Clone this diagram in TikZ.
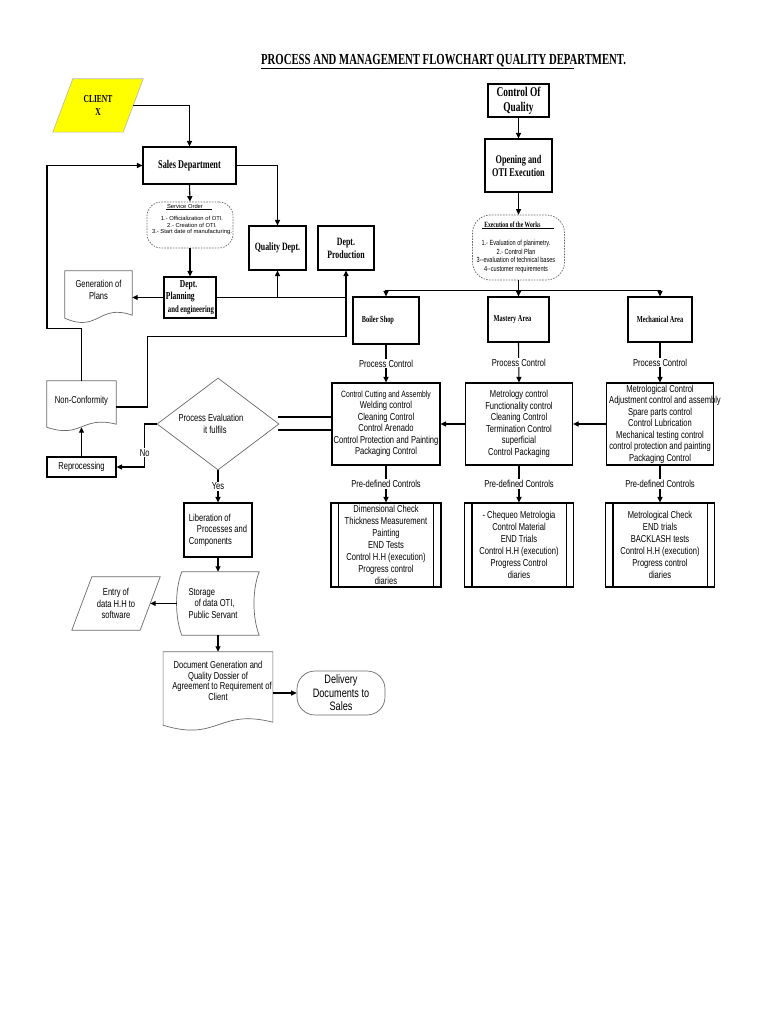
\documentclass[tikz,border=0pt]{standalone}
\usepackage{fontspec}
\usetikzlibrary{shapes.geometric,arrows.meta,calc,backgrounds}
\newfontfamily\tsans[FakeStretch=0.75]{Liberation Sans}
\newfontfamily\tsansn{Liberation Sans}
\newfontfamily\tserif[FakeStretch=0.7]{Liberation Serif}
\definecolor{outl}{RGB}{105,105,105}
\definecolor{cyel}{RGB}{255,255,0}
\newcommand{\docshape}[3]{%
  \path[thinl,fill=white] (#1.north west) -- (#1.north east) -- ($(#1.south east)+(0,#2-3)$) .. controls ($(#1.south)+(0,#2-#3)$) and ($(#1.south)+(0,#2+#3)$) .. ($(#1.south west)+(0,#2)$) -- cycle;}
\begin{document}
\begin{tikzpicture}[x=1pt,y=-1pt,
  conn/.style={draw=black,line width=1.1pt},
  arr/.style={conn,-{Triangle[length=5.5pt,width=5pt]}},
  box/.style={draw=black,line width=1.1pt,inner sep=1pt,align=center},
  fbox/.style={draw=none,inner sep=1pt,align=center},
  thinl/.style={draw=outl,line width=0.7pt},
  dashl/.style={draw=outl,line width=0.7pt,dash pattern=on 1.6pt off 1.2pt},
  sf/.style={font=\tsans\fontsize{10.1}{11.5}\selectfont},
  sfp/.style={font=\tsans\fontsize{10.1}{12}\selectfont},
  lbl/.style={sf,fill=white,inner sep=1pt},
]
\useasboundingbox (0,0) rectangle (768,1024);

% Title
\node[anchor=base west,inner sep=0pt,font=\tserif\bfseries\fontsize{15.3}{17}\selectfont] (title) at (261,65) {PROCESS AND MANAGEMENT FLOWCHART QUALITY DEPARTMENT.};
\draw[line width=1pt] ($(title.base west)+(0,4)$) -- ++(313,0);

% Left column
\node[fbox,minimum width=70pt,minimum height=53pt,font=\tserif\bfseries\fontsize{10.7}{13}\selectfont] (client) at (98,105.5) {CLIENT\\X};
\node[box,minimum width=93pt,minimum height=37pt,font=\tserif\bfseries\fontsize{11.8}{13}\selectfont] (sales) at (189.5,165.5) {Sales Department};
\node[dashl,rounded corners=14pt,minimum width=86pt,minimum height=46pt,inner sep=0pt] (service) at (190,225) {};
\node[inner sep=0pt,font=\tsansn\fontsize{5.8}{6.6}\selectfont] (svchead) at (185,206) {Service Order};
\draw[line width=0.8pt] ($(service.north west)+(19,7.5)$) -- ++(46,0);
\node[inner sep=0pt,align=center,font=\tsansn\fontsize{5.8}{6.6}\selectfont] (svcitems) at (192,225.5) {1.- Officialization of OTI.\\2.- Creation of OTI.\\3.- Start date of manufacturing.};
\node[box,align=left,minimum width=52pt,minimum height=41pt,font=\tserif\bfseries\fontsize{10.7}{12.5}\selectfont] (planning) at (190,297.5) {\hspace*{14pt}Dept.\\Planning\\\hspace*{2pt}{\fontsize{9.6}{12.5}\selectfont and engineering}};
\node[fbox,sf,minimum width=67pt,minimum height=38pt] (genplans) at (98.5,290) {Generation of\\Plans};
\node[box,minimum width=57pt,minimum height=44pt,font=\tserif\bfseries\fontsize{11.2}{13}\selectfont] (quality) at (277.5,248) {Quality Dept.};
\node[box,minimum width=56pt,minimum height=44pt,font=\tserif\bfseries\fontsize{11.2}{13}\selectfont] (production) at (346,248) {Dept.\\Production};
\node[fbox,sf,minimum width=69pt,minimum height=40pt] (nonconf) at (81.5,401) {Non-Conformity};
\node[box,sf,minimum width=69pt,minimum height=20pt] (reproc) at (81.5,467) {Reprocessing};
\node[diamond,thinl,minimum width=122pt,minimum height=92pt,inner sep=0pt,
  label={[name=dectxt,sf,align=center,xshift=-7pt]center:{Process Evaluation\\\hspace*{8pt}it fulfils}}] (decision) at (218,424) {};
\node[box,sf,align=left,minimum width=68pt,minimum height=54pt] (liberation) at (218,530) {Liberation of\\\hspace*{8pt}Processes and\\Components};
\node[fbox,minimum width=82pt,minimum height=63pt,
  label={[name=storagetxt,sf,align=left,xshift=-5pt]center:{Storage\\\hspace*{6pt}of data OTI,\\Public Servant}}] (storage) at (218,603.5) {};
\node[fbox,sf,minimum width=68pt,minimum height=53pt] (entry) at (116,603.5) {Entry of\\data H.H to\\software};
\node[fbox,minimum width=109pt,minimum height=58pt,font=\tsans\fontsize{10.1}{10.7}\selectfont] (docgen) at (218,681) {Document Generation and\\Quality Dossier of\\\hspace*{8pt}Agreement to Requirement of\\Client};
\node[thinl,rounded corners=18pt,minimum width=88pt,minimum height=44pt,align=center,inner sep=1pt,font=\tsans\fontsize{12.2}{13.5}\selectfont] (delivery) at (341,693) {Delivery\\Documents to\\Sales};

% Right column
\node[box,minimum width=61pt,minimum height=33pt,font=\tserif\bfseries\fontsize{13.4}{15}\selectfont] (coq) at (518.5,100.5) {Control Of\\Quality};
\node[box,minimum width=67pt,minimum height=53pt,font=\tserif\bfseries\fontsize{11.8}{13}\selectfont] (opening) at (518.5,165.5) {Opening and\\OTI Execution};
\node[dashl,rounded corners=18pt,minimum width=92pt,minimum height=65pt,inner sep=0pt] (execworks) at (518.5,247.5) {};
\node[inner sep=0pt,font=\tserif\bfseries\fontsize{8}{9}\selectfont] (exhead) at (512.5,225) {Execution of the Works};
\draw[line width=0.8pt] ($(execworks.north west)+(10,14)$) -- ++(72,0);
\node[inner sep=0pt,align=center,font=\tsans\fontsize{7.45}{8.8}\selectfont] (exitems) at (516,256.5) {1.- Evaluation of planimetry.\\2.- Control Plan\\3{-}{-}evaluation of technical bases\\4{-}{-}customer requirements};

\node[box,minimum width=66pt,minimum height=47pt,font=\tserif\bfseries\fontsize{9.1}{10}\selectfont] (boiler) at (386,320.5) {\hspace*{-16pt}Boiler Shop};
\node[box,minimum width=61pt,minimum height=45pt,font=\tserif\bfseries\fontsize{9.1}{10}\selectfont] (mastery) at (518.5,319.5) {\hspace*{-12pt}Mastery Area};
\node[box,minimum width=64pt,minimum height=45pt,font=\tserif\bfseries\fontsize{9.1}{10}\selectfont] (mechanical) at (660,319.5) {Mechanical Area};

\node[box,sf,minimum width=108pt,minimum height=82pt] (bctrl) at (386,424) {{\fontsize{9.05}{11.5}\selectfont Control Cutting and Assembly}\\Welding control\\Cleaning Control\\Control Arenado\\\makebox[0pt]{Control Protection and Painting}\\Packaging Control};
\node[box,sf,minimum width=107pt,minimum height=82pt] (mactrl) at (519,424) {Metrology control\\Functionality control\\Cleaning Control\\Termination Control\\superficial\\Control Packaging};
\node[box,sf,minimum width=107pt,minimum height=82pt] (mechctrl) at (660,424) {Metrological Control\\\makebox[0pt]{\hspace*{10pt}Adjustment control and assembly}\\Spare parts control\\Control Lubrication\\Mechanical testing control\\\makebox[0pt]{control protection and painting}\\Packaging Control};

\node[box,sfp,minimum width=110pt,minimum height=84pt] (bpre) at (386,545) {Dimensional Check\\Thickness Measurement\\Painting\\END Tests\\Control H.H (execution)\\Progress control\\diaries};
\node[box,sfp,minimum width=109pt,minimum height=84pt] (mapre) at (519,545) {- Chequeo Metrologia\\Control Material\\END Trials\\Control H.H (execution)\\Progress Control\\diaries};
\node[box,sfp,minimum width=109pt,minimum height=84pt] (mechpre) at (660,545) {Metrological Check\\END trials\\BACKLASH tests\\Control H.H (execution)\\Progress control\\diaries};
\foreach \n in {bpre,mapre,mechpre}{
  \draw[line width=1.1pt] ($(\n.north west)+(8,0)$) -- ($(\n.south west)+(8,0)$);
  \draw[line width=1.1pt] ($(\n.north east)+(-8,0)$) -- ($(\n.south east)+(-8,0)$);
}

% Connectors left
\draw[arr] (client.east) -| (sales.north);
\draw[arr] (sales.east) -| (quality.north);
\draw[arr] (sales.south) -- (service.north);
\draw[arr] (service.south) -- (planning.north);
\draw[arr] (planning.west) -- (planning.west -| genplans.east);
\draw[arr] (planning.east) -| (production.south);
\draw[arr] (planning.east -| quality.south) -- (quality.south);
\draw[conn] ($(nonconf.east)+(0,6)$) -- ++(31,0) |- ($(planning.east -| production.south)+(0,39)$) -- (planning.east -| production.south);
\coordinate (loopL) at (47,328.5);
\draw[arr] (nonconf.north) |- (loopL) |- (sales.west);
\draw[arr] (reproc.north) -- ($(nonconf.south)+(0,6)$);
\draw[arr] (decision.west) -- ++(-12,0) -- ++(0,43) node[lbl,pos=0.67] (nolbl) {No} -- (reproc.east);
\draw[arr] (decision.south) -- (liberation.north) node[lbl,midway] (yeslbl) {Yes};
\draw[conn] ($(decision.east)+(-1,-7)$) -- ($(bctrl.west)+(0,-7)$);
\draw[conn] ($(decision.east)+(-1,6)$) -- ($(bctrl.west)+(0,6)$);
\draw[arr] (liberation.south) -- (storage.north);
\draw[arr] (storage.west) -- (entry.east);
\draw[arr] (storage.south) -- (docgen.north);
\draw[arr] (docgen.east |- delivery.west) -- (delivery.west);

% Connectors right
\draw[arr] (coq.south) -- (opening.north);
\draw[arr] (opening.south) -- (execworks.north);
\coordinate (br) at (518.5,290.5);
\draw[conn] (execworks.south) -- (br);
\draw[arr] (br) -| (boiler.north);
\draw[arr] (br) -- (mastery.north);
\draw[arr] (br) -| (mechanical.north);
\draw[arr] (boiler.south) -- (bctrl.north) node[lbl,midway] (pc1) {Process Control};
\draw[arr] (mastery.south) -- (mactrl.north) node[lbl,midway] (pc2) {Process Control};
\draw[arr] (mechanical.south) -- (mechctrl.north) node[lbl,midway] (pc3) {Process Control};
\draw[arr] (bctrl.south) -- (bpre.north) node[lbl,midway] (pd1) {Pre-defined Controls};
\draw[arr] (mactrl.south) -- (mapre.north) node[lbl,midway] (pd2) {Pre-defined Controls};
\draw[arr] (mechctrl.south) -- (mechpre.north) node[lbl,midway] (pd3) {Pre-defined Controls};
\draw[arr] (mechctrl.west) -- (mactrl.east);
\draw[arr] (mactrl.west) -- (bctrl.east);

% Background shapes
\begin{scope}[on background layer]
\fill[white] (0,0) rectangle (768,1024);
\path[fill=cyel,draw=outl!50,line width=0.6pt] ($(client.north west)+(10,0)$) -- ($(client.north east)+(10,0)$) -- ($(client.south east)+(-10,0)$) -- ($(client.south west)+(-10,0)$) -- cycle;
\path[thinl] ($(entry.north west)+(10,0)$) -- ($(entry.north east)+(10,0)$) -- ($(entry.south east)+(-10,0)$) -- ($(entry.south west)+(-10,0)$) -- cycle;
\path[thinl] ($(storage.north west)+(5,0)$) -- (storage.north east) .. controls ($(storage.north east)+(-7,18)$) and ($(storage.south east)+(-7,-18)$) .. (storage.south east) -- ($(storage.south west)+(5,0)$) .. controls ($(storage.south west)+(-2,-18)$) and ($(storage.north west)+(-2,18)$) .. ($(storage.north west)+(5,0)$) -- cycle;
\docshape{genplans}{9}{15}
\docshape{nonconf}{6}{12}
\docshape{docgen}{15}{17}
\end{scope}
\end{tikzpicture}
\end{document}
